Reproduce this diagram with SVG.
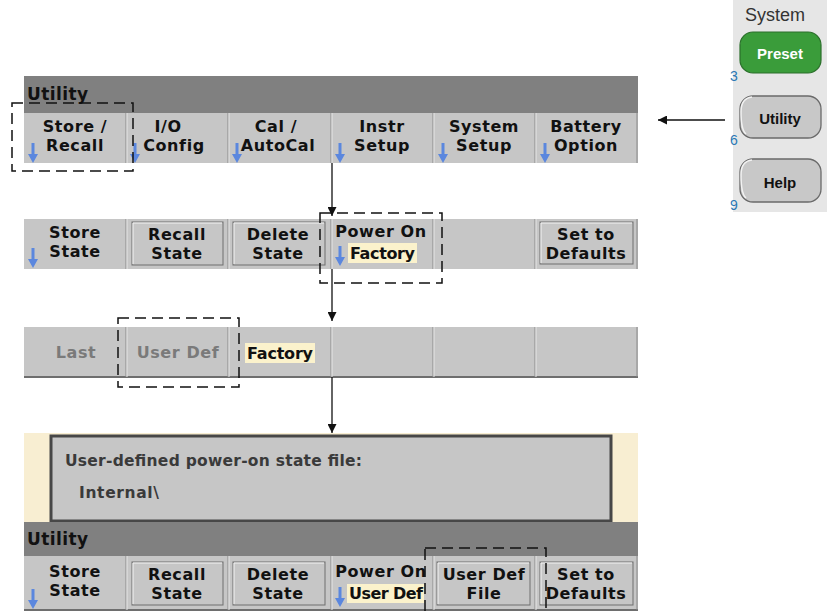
<svg xmlns="http://www.w3.org/2000/svg" width="827" height="614" viewBox="0 0 827 614">
<style>
.hdr{fill:#808080}
.row{fill:#c6c6c6}
.div{stroke:#8a8a8a;stroke-width:1}
.divl{stroke:#e6e6e6;stroke-width:1}
.k{font-family:"DejaVu Sans",sans-serif;font-weight:bold;font-size:16px;letter-spacing:0.6px;fill:#111;text-anchor:middle}
.kl{font-family:"DejaVu Sans",sans-serif;font-weight:bold;font-size:16px;fill:#111}
.kg{font-family:"DejaVu Sans",sans-serif;font-weight:bold;font-size:16px;letter-spacing:0.6px;fill:#7a7a7a;text-anchor:middle}
.ht{font-family:"DejaVu Sans",sans-serif;font-weight:bold;font-size:17px;letter-spacing:0.4px;fill:#111}
.btn{fill:#c6c6c6;stroke:#6e6e6e;stroke-width:1}
.hl{stroke:#f4f4f4;stroke-width:1;fill:none}
.hi{fill:#fbf2cc}
.dash{fill:none;stroke:#111;stroke-width:1.5;stroke-dasharray:11 6}
.con{stroke:#111;stroke-width:1.3;fill:none}
.pt{font-family:"DejaVu Sans",sans-serif;font-weight:bold;font-size:15.5px;fill:#3a3a3a}
.sb{font-family:"Liberation Sans",Arial,sans-serif;font-weight:bold;font-size:15px;text-anchor:middle}
.num{font-family:"Liberation Sans",Arial,sans-serif;font-size:14px;fill:#2a78b4}
.pbtn{fill:#c8c8c8;stroke:#6a6a6a;stroke-width:1.3}
</style>
<defs>
<path id="barrow" d="M-1.5,0 H1.5 V11 H5 L0,20 L-5,11 H-1.5 Z" fill="#5b87de"/>
<marker id="ah" viewBox="0 0 10 10" refX="10" refY="5" markerWidth="9" markerHeight="9" markerUnits="userSpaceOnUse" orient="auto">
<path d="M0,0 L10,5 L0,10 Z" fill="#111"/>
</marker>
</defs>

<!-- Right panel -->
<g id="system-panel">
<rect x="733" y="0" width="94" height="212" fill="#e6e6e6"/>
<text x="745" y="21" font-family="Liberation Sans, Arial, sans-serif" font-size="18" fill="#333">System</text>
<g id="preset-btn">
<rect x="740" y="32" width="81" height="41" rx="13" fill="#3a9c3a" stroke="#2b6f2b" stroke-width="1.2"/>
<text class="sb" x="780" y="59" fill="#ffffff">Preset</text>
<text class="num" x="730" y="81">3</text>
</g>
<g id="utility-btn">
<rect class="pbtn" x="740" y="96" width="81" height="42" rx="13"/>
<path d="M746,134 Q741,130 741,112 Q741,98 752,97" fill="none" stroke="#f2f2f2" stroke-width="1.5"/>
<text class="sb" x="780" y="124" fill="#111">Utility</text>
<text class="num" x="730" y="145">6</text>
</g>
<g id="help-btn">
<rect class="pbtn" x="740" y="159" width="81" height="43" rx="13"/>
<path d="M746,198 Q741,194 741,175 Q741,161 752,160" fill="none" stroke="#f2f2f2" stroke-width="1.5"/>
<text class="sb" x="780" y="188" fill="#111">Help</text>
<text class="num" x="730" y="210">9</text>
</g>
</g>

<!-- Row 1: Utility menu -->
<g id="utility-menu">
<rect class="hdr" x="24" y="76" width="614" height="37"/>
<text class="ht" x="27" y="100">Utility</text>
<rect class="row" x="24" y="113" width="614" height="50"/>
<g class="div"><line x1="126" y1="113" x2="126" y2="163"/><line x1="228" y1="113" x2="228" y2="163"/><line x1="331" y1="113" x2="331" y2="163"/><line x1="433" y1="113" x2="433" y2="163"/><line x1="535" y1="113" x2="535" y2="163"/><line x1="637" y1="113" x2="637" y2="163"/></g>
<g class="divl"><line x1="127" y1="113" x2="127" y2="163"/><line x1="229" y1="113" x2="229" y2="163"/><line x1="332" y1="113" x2="332" y2="163"/><line x1="434" y1="113" x2="434" y2="163"/><line x1="536" y1="113" x2="536" y2="163"/></g>
<text class="k" x="75" y="132">Store /</text><text class="k" x="75" y="151">Recall</text>
<text class="k" x="168" y="132">I/O</text><text class="k" x="174" y="151">Config</text>
<text class="k" x="276" y="132">Cal /</text><text class="k" x="278" y="151">AutoCal</text>
<text class="k" x="382" y="132">Instr</text><text class="k" x="382" y="151">Setup</text>
<text class="k" x="484" y="132">System</text><text class="k" x="484" y="151">Setup</text>
<text class="k" x="586" y="132">Battery</text><text class="k" x="586" y="151">Option</text>
<use href="#barrow" x="33" y="143"/><use href="#barrow" x="135" y="143"/><use href="#barrow" x="237" y="143"/><use href="#barrow" x="340" y="143"/><use href="#barrow" x="443" y="143"/><use href="#barrow" x="545" y="143"/>
</g>

<!-- Row 2: Store/Recall menu -->
<g id="store-recall-menu">
<rect class="row" x="24" y="219" width="614" height="50"/>
<g class="div"><line x1="126" y1="219" x2="126" y2="269"/><line x1="228" y1="219" x2="228" y2="269"/><line x1="331" y1="219" x2="331" y2="269"/><line x1="433" y1="219" x2="433" y2="269"/><line x1="535" y1="219" x2="535" y2="269"/><line x1="637" y1="219" x2="637" y2="269"/></g>
<g class="divl"><line x1="127" y1="219" x2="127" y2="269"/><line x1="229" y1="219" x2="229" y2="269"/><line x1="332" y1="219" x2="332" y2="269"/><line x1="434" y1="219" x2="434" y2="269"/><line x1="536" y1="219" x2="536" y2="269"/></g>
<text class="k" x="75" y="238">Store</text><text class="k" x="75" y="257">State</text>
<use href="#barrow" x="33" y="248"/>
<rect class="btn" x="132" y="222" width="91" height="43"/><polyline class="hl" points="133,264 133,223 222,223"/>
<text class="k" x="177" y="240">Recall</text><text class="k" x="177" y="259">State</text>
<rect class="btn" x="233" y="222" width="92" height="43"/><polyline class="hl" points="234,264 234,223 324,223"/>
<text class="k" x="278" y="240">Delete</text><text class="k" x="278" y="259">State</text>
<text class="k" x="381" y="237">Power On</text>
<rect class="hi" x="348" y="243" width="69" height="20"/>
<text class="kl" x="350" y="259" textLength="65">Factory</text>
<use href="#barrow" x="340" y="246"/>
<rect class="btn" x="540" y="222" width="93" height="42"/><polyline class="hl" points="541,263 541,223 632,223"/>
<text class="k" x="586" y="240">Set to</text><text class="k" x="586" y="259">Defaults</text>
</g>

<!-- Row 3: Power On choices -->
<g id="power-on-menu">
<rect class="row" x="24" y="327" width="614" height="50"/>
<line x1="24" y1="377" x2="638" y2="377" stroke="#6e6e6e" stroke-width="2"/>
<g class="div"><line x1="126" y1="327" x2="126" y2="377"/><line x1="228" y1="327" x2="228" y2="377"/><line x1="331" y1="327" x2="331" y2="377"/><line x1="433" y1="327" x2="433" y2="377"/><line x1="535" y1="327" x2="535" y2="377"/><line x1="637" y1="327" x2="637" y2="377"/></g>
<g class="divl"><line x1="127" y1="327" x2="127" y2="377"/><line x1="229" y1="327" x2="229" y2="377"/><line x1="332" y1="327" x2="332" y2="377"/><line x1="434" y1="327" x2="434" y2="377"/><line x1="536" y1="327" x2="536" y2="377"/></g>
<text class="kg" x="76" y="358">Last</text>
<text class="kg" x="178" y="358">User Def</text>
<rect class="hi" x="245" y="343" width="70" height="20"/>
<text class="kl" x="247" y="359" textLength="66">Factory</text>
</g>

<!-- Bottom: dialog and Store/Recall menu -->
<g id="user-def-screen">
<rect x="24" y="433" width="614" height="90" fill="#f8eed2"/>
<rect x="51" y="436" width="560" height="85" fill="#c6c6c6" stroke="#474747" stroke-width="3"/>
<text class="pt" x="65" y="466" textLength="297">User-defined power-on state file:</text>
<text class="pt" x="79" y="498" textLength="80">Internal\</text>
<rect class="hdr" x="24" y="522" width="614" height="34"/>
<text class="ht" x="27" y="545">Utility</text>
<rect class="row" x="24" y="556" width="614" height="54"/>
<line x1="24" y1="610" x2="638" y2="610" stroke="#6e6e6e" stroke-width="2"/>
<g class="div"><line x1="126" y1="556" x2="126" y2="610"/><line x1="228" y1="556" x2="228" y2="610"/><line x1="331" y1="556" x2="331" y2="610"/><line x1="433" y1="556" x2="433" y2="610"/><line x1="535" y1="556" x2="535" y2="610"/><line x1="637" y1="556" x2="637" y2="610"/></g>
<g class="divl"><line x1="127" y1="556" x2="127" y2="610"/><line x1="229" y1="556" x2="229" y2="610"/><line x1="332" y1="556" x2="332" y2="610"/><line x1="434" y1="556" x2="434" y2="610"/><line x1="536" y1="556" x2="536" y2="610"/></g>
<text class="k" x="75" y="577">Store</text><text class="k" x="75" y="596">State</text>
<use href="#barrow" x="33" y="589"/>
<rect class="btn" x="132" y="562" width="91" height="43"/><polyline class="hl" points="133,604 133,563 222,563"/>
<text class="k" x="177" y="580">Recall</text><text class="k" x="177" y="599">State</text>
<rect class="btn" x="233" y="562" width="92" height="43"/><polyline class="hl" points="234,604 234,563 324,563"/>
<text class="k" x="278" y="580">Delete</text><text class="k" x="278" y="599">State</text>
<text class="k" x="381" y="577">Power On</text>
<rect class="hi" x="347" y="584" width="77" height="19"/>
<text class="kl" x="349" y="599" textLength="74">User Def</text>
<use href="#barrow" x="340" y="587"/>
<rect class="btn" x="437" y="562" width="93" height="43"/><polyline class="hl" points="438,604 438,563 529,563"/>
<text class="k" x="484" y="580">User Def</text><text class="k" x="484" y="599">File</text>
<rect class="btn" x="540" y="562" width="93" height="43"/><polyline class="hl" points="541,604 541,563 632,563"/>
<text class="k" x="586" y="580">Set to</text><text class="k" x="586" y="599">Defaults</text>
</g>

<!-- Highlight frames -->
<g id="frames">
<rect class="dash" x="12" y="103" width="121" height="68"/>
<rect class="dash" x="320" y="213" width="122" height="70"/>
<rect class="dash" x="118" y="318" width="121" height="69"/>
<rect class="dash" x="425" y="548" width="121" height="72"/>
</g>

<!-- Connectors -->
<g id="connectors">
<line class="con" x1="725" y1="120" x2="658" y2="120" marker-end="url(#ah)"/>
<line class="con" x1="332" y1="163" x2="332" y2="216" marker-end="url(#ah)"/>
<line class="con" x1="332" y1="269" x2="332" y2="321" marker-end="url(#ah)"/>
<line class="con" x1="332" y1="377" x2="332" y2="433" marker-end="url(#ah)"/>
</g>
</svg>
